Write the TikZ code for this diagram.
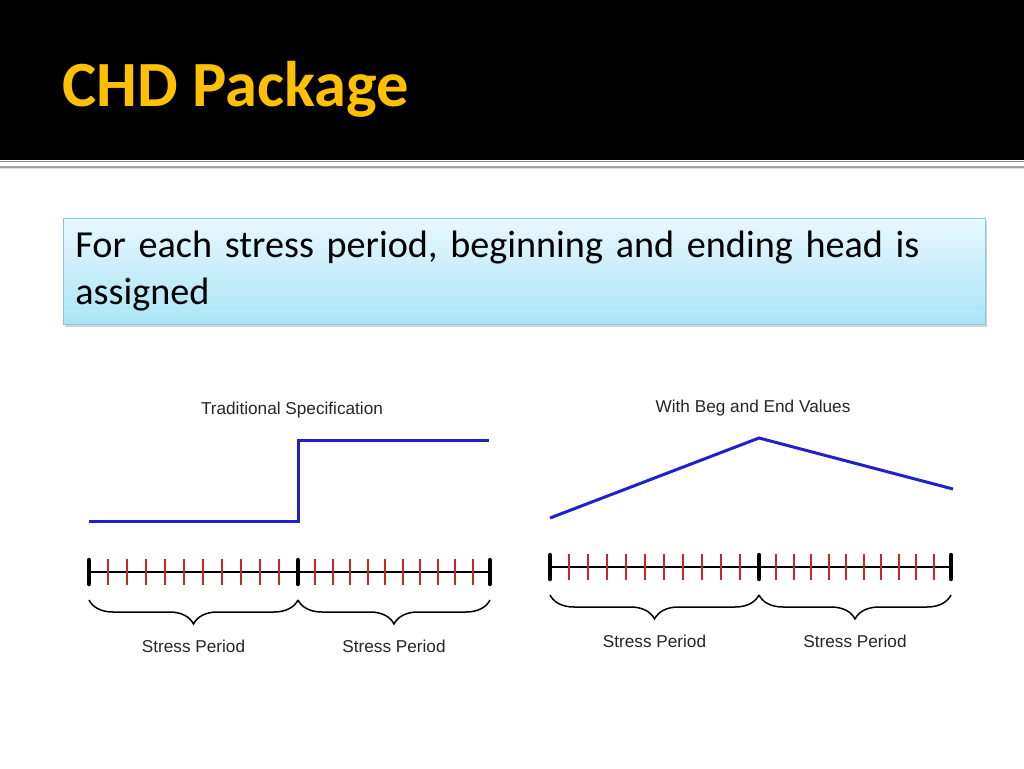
\documentclass[tikz,border=0pt]{standalone}
\usepackage{fontspec}
\setmainfont{Carlito}
\newfontfamily\plotfont{Liberation Sans}
\usetikzlibrary{calc,decorations.pathreplacing,shadows}
\definecolor{cTitle}{HTML}{FFC000}
\definecolor{cHead}{HTML}{2121CC}
\definecolor{cTick}{HTML}{C9262B}
\definecolor{cBoxTop}{HTML}{E8F8FD}
\definecolor{cBoxBot}{HTML}{A9E4F7}
\definecolor{cBoxLine}{HTML}{86C8DD}
\definecolor{cRule}{HTML}{8A8A8A}

\begin{document}
\begin{tikzpicture}[
  x=1pt, y=-1pt,
  head/.style={draw=cHead, line width=3pt, line join=miter},
  axisline/.style={draw=black, line width=2.6pt},
  endtick/.style={draw=black, line width=4.5pt, line cap=round},
  subtick/.style={draw=cTick, line width=2pt},
  brc/.style={decorate, decoration={brace, mirror, amplitude=24pt}, line width=1.5pt},
  lbl/.style={font=\plotfont\fontsize{17.2}{19}\selectfont, inner sep=0pt, text=black!85},
  bullet/.style={draw=cBoxLine, line width=.9pt, top color=cBoxTop, bottom color=cBoxBot,
                 drop shadow={shadow xshift=1.5pt, shadow yshift=-2.5pt, opacity=.35},
                 align=left, inner xsep=12pt, inner ysep=0pt,
                 font=\fontsize{38.2}{47}\selectfont},
]
\useasboundingbox (0,0) rectangle (1024,768);
\fill[white] (0,0) rectangle (1024,768);

% ---------------- slide header ----------------
\fill[black] (0,0) rectangle (1024,160);
\draw[cRule, line width=1.5pt] (0,161.5) -- (1024,161.5);
\draw[cRule!80, line width=2pt] (0,166.5) -- (1024,166.5);
\draw[cRule!25, line width=1.2pt] (0,168.8) -- (1024,168.8);
\node[anchor=base west, inner sep=0pt, text=cTitle,
      font=\bfseries\fontsize{64.5}{70}\selectfont] (title) at (62,106) {CHD Package};

% ---------------- bullet box ----------------
\node[bullet, anchor=north west, minimum width=922pt, minimum height=106pt,
      text width=898pt] (box) at (63,218)
  {For each stress period, beginning and ending head is\\assigned};

% ---------------- time axis with ticks and braces ----------------
% #1 name, #2 start x, #3 middle x, #4 end x, #5 y
\newcommand{\periodaxis}[5]{%
  \coordinate (#1a) at (#2,#5);
  \coordinate (#1m) at (#3,#5);
  \coordinate (#1b) at (#4,#5);
  \draw[axisline] (#1a) -- (#1b);
  \foreach \i in {1,...,10} {
    \draw[subtick] ($(#1a)!\i/11!(#1m)+(0,-13)$) -- ++(0,26);
    \draw[subtick] ($(#1m)!\i/11!(#1b)+(0,-13)$) -- ++(0,26);
  }
  \foreach \c in {#1a,#1m,#1b}
    \draw[endtick] ($(\c)+(0,-12)$) -- ++(0,24);
  \draw[brc] ($(#1a)+(0,28)$) -- ($(#1m)+(0,28)$);
  \draw[brc] ($(#1m)+(0,28)$) -- ($(#1b)+(0,28)$);
  \node[lbl] (#1p1) at ($(#1a)!.5!(#1m)+(0,74)$) {Stress Period};
  \node[lbl] (#1p2) at ($(#1m)!.5!(#1b)+(0,74)$) {Stress Period};}

% ---------------- left: traditional specification ----------------
\node[lbl] (tradT) at (292,410) {Traditional Specification};
\draw[head] (89,521) -- (298,521) -- (298,440) -- (489,440);
\periodaxis{L}{89}{298}{490}{572}

% ---------------- right: beginning and ending values ----------------
\node[lbl] (begT) at (753,408) {With Beg and End Values};
\draw[head] (550,518) -- (759,438) -- (953,489);
\periodaxis{R}{550}{759}{951}{567}

\end{tikzpicture}
\end{document}
